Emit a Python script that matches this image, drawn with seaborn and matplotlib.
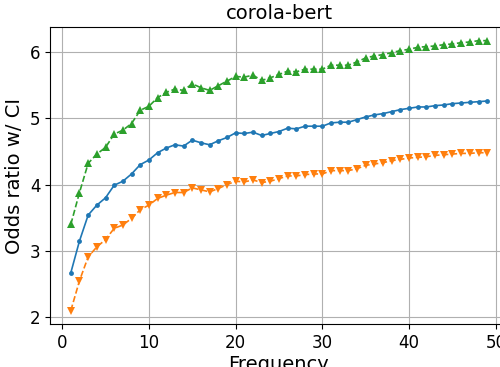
import matplotlib
matplotlib.use("Agg")
import matplotlib.pyplot as plt
import seaborn as sns
import pandas as pd

freq = list(range(1, 50))

odds_ratio = [2.67, 3.15, 3.54, 3.69, 3.80, 3.99, 4.05, 4.16, 4.30, 4.37,
              4.48, 4.55, 4.60, 4.58, 4.67, 4.63, 4.60, 4.66, 4.71, 4.78,
              4.77, 4.79, 4.74, 4.77, 4.80, 4.85, 4.84, 4.88, 4.88, 4.88,
              4.93, 4.94, 4.94, 4.98, 5.02, 5.05, 5.07, 5.10, 5.13, 5.15,
              5.17, 5.17, 5.19, 5.20, 5.22, 5.23, 5.24, 5.25, 5.26]

ci_lower = [2.10, 2.55, 2.91, 3.06, 3.17, 3.34, 3.39, 3.49, 3.62, 3.69,
            3.79, 3.84, 3.88, 3.88, 3.95, 3.92, 3.89, 3.94, 4.00, 4.05,
            4.04, 4.07, 4.03, 4.05, 4.09, 4.13, 4.13, 4.15, 4.16, 4.16,
            4.21, 4.21, 4.21, 4.24, 4.29, 4.31, 4.33, 4.36, 4.38, 4.40,
            4.41, 4.42, 4.44, 4.45, 4.46, 4.47, 4.47, 4.48, 4.48]

ci_upper = [3.40, 3.88, 4.32, 4.46, 4.56, 4.76, 4.82, 4.92, 5.12, 5.18,
            5.31, 5.39, 5.44, 5.42, 5.52, 5.46, 5.42, 5.49, 5.56, 5.63,
            5.62, 5.65, 5.57, 5.61, 5.66, 5.71, 5.70, 5.74, 5.74, 5.74,
            5.80, 5.80, 5.80, 5.85, 5.91, 5.94, 5.96, 5.99, 6.02, 6.04,
            6.07, 6.08, 6.09, 6.11, 6.12, 6.14, 6.15, 6.17, 6.17]

df = pd.DataFrame({'freq': freq, 'odds': odds_ratio,
                   'lower': ci_lower, 'upper': ci_upper})

fig = plt.figure(figsize=(5, 3.67), dpi=100)
ax = fig.add_axes([0.1, 0.117, 0.916, 0.809])

sns.lineplot(data=df, x='freq', y='odds', ax=ax, color='C0',
             marker='.', markersize=7, markeredgewidth=0, linewidth=1.2)
sns.lineplot(data=df, x='freq', y='lower', ax=ax, color='C1',
             marker='v', markersize=6, markeredgewidth=0, linewidth=1.2,
             linestyle='--')
sns.lineplot(data=df, x='freq', y='upper', ax=ax, color='C2',
             marker='^', markersize=6, markeredgewidth=0, linewidth=1.2,
             linestyle='--')

ax.grid(True)
ax.set_xticks([0, 10, 20, 30, 40, 50])
ax.set_yticks([2, 3, 4, 5, 6])
ax.tick_params(labelsize=12)
ax.set_xlabel('Frequency', fontsize=14, labelpad=2)
ax.set_ylabel('Odds ratio w/ CI', fontsize=14)
ax.set_title('corola-bert', fontsize=14)

fig.savefig('out.png', dpi=100)
